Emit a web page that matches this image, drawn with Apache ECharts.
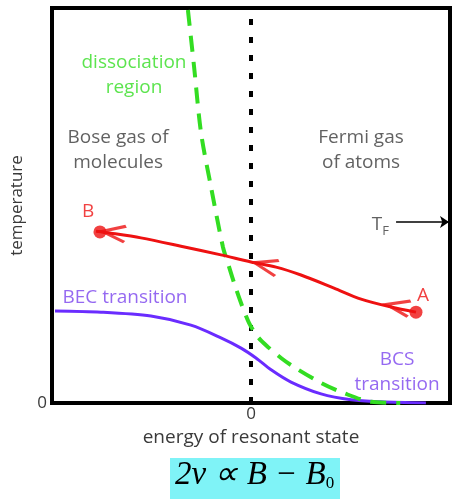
<!DOCTYPE html>
<html>
<head>
<meta charset="utf-8">
<script src="https://cdn.jsdelivr.net/npm/echarts@6/dist/echarts.min.js"></script>
<style>
  html, body { margin: 0; padding: 0; background: #fff; }
  #chart { width: 457px; height: 499px; }
</style>
</head>
<body>
<div id="chart"></div>
<script>
// data, x = energy of resonant state (-1..1), y = temperature (0..1)
var becCurve = [
  [-0.985, 0.233], [-0.754, 0.230], [-0.503, 0.220], [-0.302, 0.197],
  [-0.151, 0.165], [-0.050, 0.139], [0.025, 0.114], [0.101, 0.084],
  [0.201, 0.053], [0.352, 0.023], [0.503, 0.008], [0.653, 0.003], [0.879, 0.0]
];
var dissociation = [
  [-0.317, 0.995], [-0.286, 0.851], [-0.251, 0.684], [-0.201, 0.547],
  [-0.141, 0.395], [-0.116, 0.354], [-0.085, 0.304], [-0.050, 0.253],
  [-0.010, 0.203], [0.035, 0.167], [0.085, 0.142], [0.151, 0.114],
  [0.216, 0.091], [0.352, 0.051], [0.467, 0.025], [0.603, 0.003], [0.75, 0.0]
];
var pathAB = [
  [0.829, 0.230], [0.704, 0.243], [0.553, 0.263], [0.417, 0.291],
  [0.251, 0.324], [0.126, 0.344], [0.0, 0.357], [-0.151, 0.375],
  [-0.352, 0.397], [-0.553, 0.418], [-0.704, 0.430], [-0.779, 0.435]
];
var endPoints = [[0.829, 0.230], [-0.759, 0.433]];
// arrow heads: [x, y, rotation]
var arrowHeads = [[-0.690, 0.431, -7], [0.074, 0.348, -14], [0.738, 0.244, -11]];
var resonance = [[0, 0], [0, 1]];
var tfLevel = 0.458;
var labels = [
  { x: -0.588, y: 0.830, text: "dissociation\nregion", color: "#33dd22" },
  { x: -0.668, y: 0.641, text: "Bose gas of\nmolecules", color: "#3a3a3a" },
  { x: 0.553, y: 0.641, text: "Fermi gas\nof atoms", color: "#3a3a3a" },
  { x: -0.819, y: 0.484, text: "B", color: "#ee1111" },
  { x: 0.864, y: 0.271, text: "A", color: "#ee1111" },
  { x: -0.633, y: 0.266, text: "BEC transition", color: "#7a44ee" },
  { x: 0.734, y: 0.078, text: "BCS\ntransition", color: "#7a44ee" }
];

var FONT = "Open Sans";
var dom = echarts.init(document.getElementById("chart"));
var option = {
  animation: false,
  grid: {
    left: 52, right: 7, top: 8, bottom: 96,
    show: true, borderColor: "#000", borderWidth: 4
  },
  xAxis: {
    type: "value", min: -1, max: 1, interval: 1,
    name: "energy of resonant state", nameLocation: "middle", nameGap: 20,
    nameTextStyle: { fontFamily: FONT, fontSize: 19, color: "#3a3a3a" },
    axisLine: { show: false }, axisTick: { show: false }, splitLine: { show: false },
    axisLabel: {
      margin: 3, fontFamily: FONT, fontSize: 17, color: "#3a3a3a",
      formatter: function (v) { return v === 0 ? "0" : ""; }
    }
  },
  yAxis: {
    type: "value", min: 0, max: 1, interval: 1,
    name: "temperature", nameLocation: "middle", nameGap: 26,
    nameTextStyle: { fontFamily: FONT, fontSize: 17, color: "#3a3a3a" },
    axisLine: { show: false }, axisTick: { show: false }, splitLine: { show: false },
    axisLabel: {
      margin: 5, fontFamily: FONT, fontSize: 17, color: "#3a3a3a",
      formatter: function (v) { return v === 0 ? "0" : ""; }
    }
  },
  series: [
    {
      type: "line", data: resonance, symbol: "none", silent: true,
      lineStyle: { color: "#000", width: 4, type: [6, 12] }
    },
    {
      type: "line", data: becCurve, symbol: "none", smooth: 0.3,
      lineStyle: { color: "#6a2cff", width: 3 }
    },
    {
      type: "line", data: dissociation, symbol: "none", smooth: 0.3, clip: true,
      lineStyle: { color: "#33dd22", width: 4, type: [16, 10] }
    },
    {
      type: "line", data: pathAB, symbol: "none", smooth: 0.3,
      lineStyle: { color: "#ee1111", width: 3 },
      markLine: {
        silent: true, symbol: ["none", "arrow"], symbolSize: [9, 9],
        lineStyle: { color: "#000", width: 1.5, type: "solid" },
        label: { show: false },
        data: [[{ coord: [0.729, tfLevel] }, { coord: [0.995, tfLevel] }]]
      }
    },
    {
      type: "scatter", data: endPoints, symbol: "circle", symbolSize: 13,
      itemStyle: { color: "#ee1111" }
    },
    {
      type: "scatter",
      data: arrowHeads.map(function (a) {
        return { value: [a[0], a[1]], symbolRotate: a[2] };
      }),
      symbol: "path://M10,0 L0,5 L10,10", symbolSize: [23, 16],
      symbolKeepAspect: false,
      itemStyle: { color: "none", borderColor: "#ee1111", borderWidth: 3.5 }
    },
    {
      type: "scatter", symbolSize: 0, silent: true,
      data: labels.map(function (l) {
        return {
          value: [l.x, l.y],
          label: {
            show: true, position: "inside", formatter: l.text,
            fontFamily: FONT, fontSize: 19, lineHeight: 25, color: l.color
          }
        };
      })
    },
    {
      type: "scatter", symbolSize: 0, silent: true,
      data: [[0.650, 0.451]],
      label: {
        show: true, position: "inside", formatter: "T{s|F}",
        fontFamily: FONT, fontSize: 19, color: "#3a3a3a",
        rich: { s: { fontFamily: FONT, fontSize: 13, color: "#3a3a3a", padding: [12, 0, 0, 0] } }
      }
    }
  ],
  graphic: [
    {
      type: "rect", left: 170, top: 458,
      shape: { width: 170, height: 41 },
      style: { fill: "#7ff3f7" }
    },
    {
      type: "text", left: 175, top: 459,
      style: {
        text: "2ν ∝ B − B{s|0}",
        font: "italic 33px 'Liberation Serif'",
        fill: "#000",
        rich: { s: { font: "17px 'Liberation Serif'", padding: [17, 0, 0, 0] } }
      }
    }
  ]
};
dom.setOption(option);
</script>
</body>
</html>
